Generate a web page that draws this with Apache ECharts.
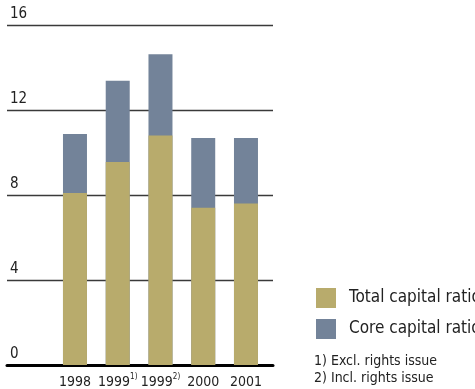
<!DOCTYPE html>
<html><head><meta charset="utf-8">
<script src="https://cdn.jsdelivr.net/npm/echarts@6/dist/echarts.min.js"></script>
<style>html,body{margin:0;padding:0;background:#fff}#c{width:475px;height:389px}</style>
</head><body><div id="c"></div>
<script>
var categories = ['1998', '1999 1)', '1999 2)', '2000', '2001'];
var categoryText = ['1998', '1999', '1999', '2000', '2001'];
var categorySup = ['', '1)', '2)', '', ''];
var totalCapitalRatio = [8.1, 9.55, 10.8, 7.4, 7.6];
var coreCapitalRatio = [10.87, 13.38, 14.62, 10.68, 10.68];
var yTicks = [0, 4, 8, 12, 16];
var footnotes = ['1) Excl. rights issue', '2) Incl. rights issue'];

var FONT = "'Liberation Sans Narrow', 'DejaVu Sans Condensed', 'Liberation Sans', sans-serif";
var chart = echarts.init(document.getElementById('c'), null, {renderer: 'canvas'});
var labelMap = {};
categories.forEach(function (c, i) { labelMap[c] = i; });

chart.setOption({
  animation: false,
  textStyle: {fontFamily: FONT},
  grid: [
    {left: 7, top: 25, width: 266, height: 340},
    {left: 53.6, top: 25, width: 213.75, height: 340}
  ],
  xAxis: [
    {gridIndex: 0, type: 'category', data: ['x'],
     axisLine: {show: true, lineStyle: {color: '#000', width: 3}},
     axisTick: {show: false}, axisLabel: {show: false}},
    {gridIndex: 1, type: 'category', data: categories,
     axisLine: {show: false}, axisTick: {show: false},
     axisLabel: {
       interval: 0, hideOverlap: false,
       margin: 8, color: '#222', fontSize: 14, fontFamily: FONT,
       formatter: function (v) {
         var i = labelMap[v];
         return categorySup[i] ? '{a|' + categoryText[i] + '}{s|' + categorySup[i] + '}' : '{a|' + categoryText[i] + '}';
       },
       rich: {
         a: {fontSize: 14, lineHeight: 16, color: '#222', fontFamily: FONT, verticalAlign: 'bottom'},
         s: {fontSize: 8, lineHeight: 9, color: '#222', fontFamily: FONT, verticalAlign: 'top'}
       }
     }}
  ],
  yAxis: [
    {gridIndex: 0, type: 'value', min: yTicks[0], max: yTicks[yTicks.length - 1], interval: 4,
     axisLine: {show: false}, axisTick: {show: false},
     splitLine: {show: true, lineStyle: {color: '#3a3a3a', width: 1.3}},
     axisLabel: {inside: true, margin: 3, color: '#222', fontSize: 15, fontFamily: FONT,
                 verticalAlign: 'bottom', padding: [0, 0, 3, 0]}},
    {gridIndex: 1, type: 'value', min: yTicks[0], max: yTicks[yTicks.length - 1], interval: 4,
     show: false, splitLine: {show: false}}
  ],
  legend: {
    orient: 'vertical', left: 316, top: 288, padding: 0,
    itemWidth: 20, itemHeight: 20, itemGap: 11,
    icon: 'rect',
    data: ['Total capital ratio', 'Core capital ratio'],
    textStyle: {fontSize: 17, color: '#222', fontFamily: FONT, padding: [0, 0, 0, 8]}
  },
  series: [
    {name: 'Core capital ratio', type: 'bar', xAxisIndex: 1, yAxisIndex: 1,
     data: coreCapitalRatio, barWidth: 24, barGap: '-100%',
     itemStyle: {color: '#738399'}},
    {name: 'Total capital ratio', type: 'bar', xAxisIndex: 1, yAxisIndex: 1,
     data: totalCapitalRatio, barWidth: 24, barGap: '-100%',
     itemStyle: {color: '#b8ab6c'}}
  ],
  graphic: footnotes.map(function (t, i) {
    return {type: 'text', left: 314, top: 354 + i * 17,
            style: {text: t, fontSize: 14, fill: '#222', fontFamily: FONT}};
  })
});
</script></body></html>
